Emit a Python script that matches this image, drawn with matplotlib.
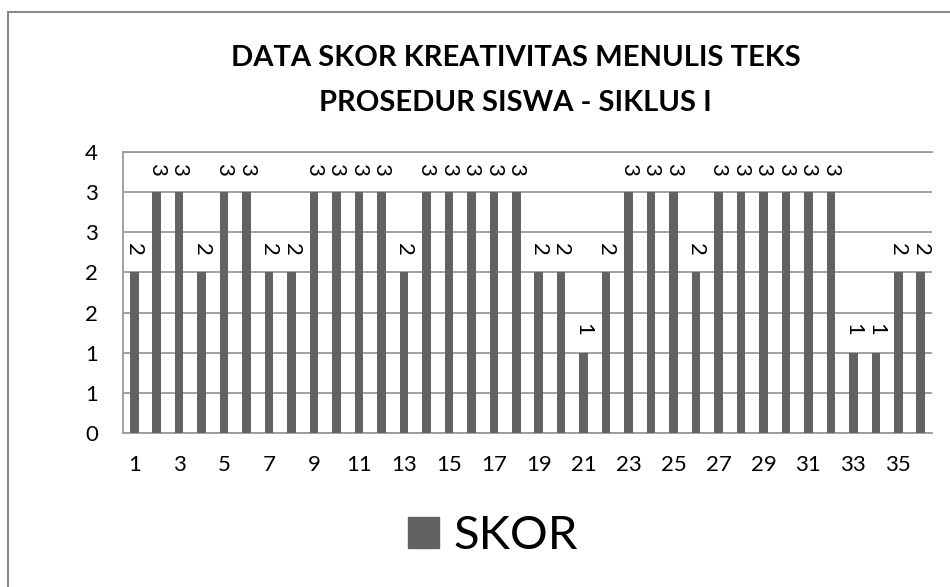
import matplotlib.pyplot as plt
import numpy as np
from matplotlib.patches import Rectangle, Patch
from matplotlib.ticker import FuncFormatter, FixedLocator

plt.rcParams['font.family'] = ['Lato', 'DejaVu Sans']

# siswa ke-1 .. ke-36
siswa = list(range(1, 37))
skor = [2, 3, 3, 2, 3, 3, 2, 2, 3, 3, 3, 3, 2, 3, 3, 3, 3, 3,
        2, 2, 1, 2, 3, 3, 3, 2, 3, 3, 3, 3, 3, 3, 1, 1, 2, 2]
y_ticks = [0, 0.5, 1, 1.5, 2, 2.5, 3, 3.5]
x_labels = list(range(1, 37, 2))

bar_color = '#626262'
grid_color = '#9a9a9a'

fig = plt.figure(figsize=(9.5, 5.87), dpi=100)
ax = fig.add_axes([0.1295, 0.2624, 0.8515, 0.4786])

ax.bar(siswa, skor, width=0.38, color=bar_color, zorder=3, label='SKOR')

# data labels (rotated like the excel chart)
for x, v in zip(siswa, skor):
    ax.annotate(str(v), (x, v), xytext=(0, 16.5), textcoords='offset points',
                ha='center', va='center', rotation=-90, fontsize=16)

ax.set_xlim(0.5, 36.5)
ax.set_ylim(0, 3.5)
ax.yaxis.set_major_locator(FixedLocator(y_ticks))
ax.yaxis.set_major_formatter(FuncFormatter(lambda v, p: str(int(v + 0.5))))
ax.set_xticks(x_labels)
ax.tick_params(axis='both', length=0, labelsize=16)
ax.tick_params(axis='y', pad=18)
ax.tick_params(axis='x', pad=16)

ax.grid(axis='y', color=grid_color, linewidth=1.3, zorder=0)
ax.axhline(3.5, color=grid_color, linewidth=1.3, zorder=0, clip_on=False)
for s in ['top', 'right']:
    ax.spines[s].set_visible(False)
for s in ['left', 'bottom']:
    ax.spines[s].set_color(grid_color)
    ax.spines[s].set_linewidth(1.3)

fig.text(0.5426, 1 - 58 / 587, 'DATA SKOR KREATIVITAS MENULIS TEKS',
         ha='center', va='center', fontsize=21, fontweight='bold')
fig.text(0.5426, 1 - 103 / 587, 'PROSEDUR SISWA - SIKLUS I',
         ha='center', va='center', fontsize=21, fontweight='bold')

fig.legend(handles=[Patch(color=bar_color, label='SKOR')], loc='center',
           bbox_to_anchor=(493 / 950, 1 - 536 / 587), frameon=False,
           fontsize=34, handlelength=0.66, handleheight=0.66, handletextpad=0.3)

# outer chart frame (cut off at right and bottom)
fig.patches.append(Rectangle((8 / 950, -0.2), 1.5, 1.2 - 12 / 587,
                             transform=fig.transFigure, fill=False,
                             edgecolor='#8a8a8a', linewidth=1.5))

fig.savefig('out.png', dpi=100)
